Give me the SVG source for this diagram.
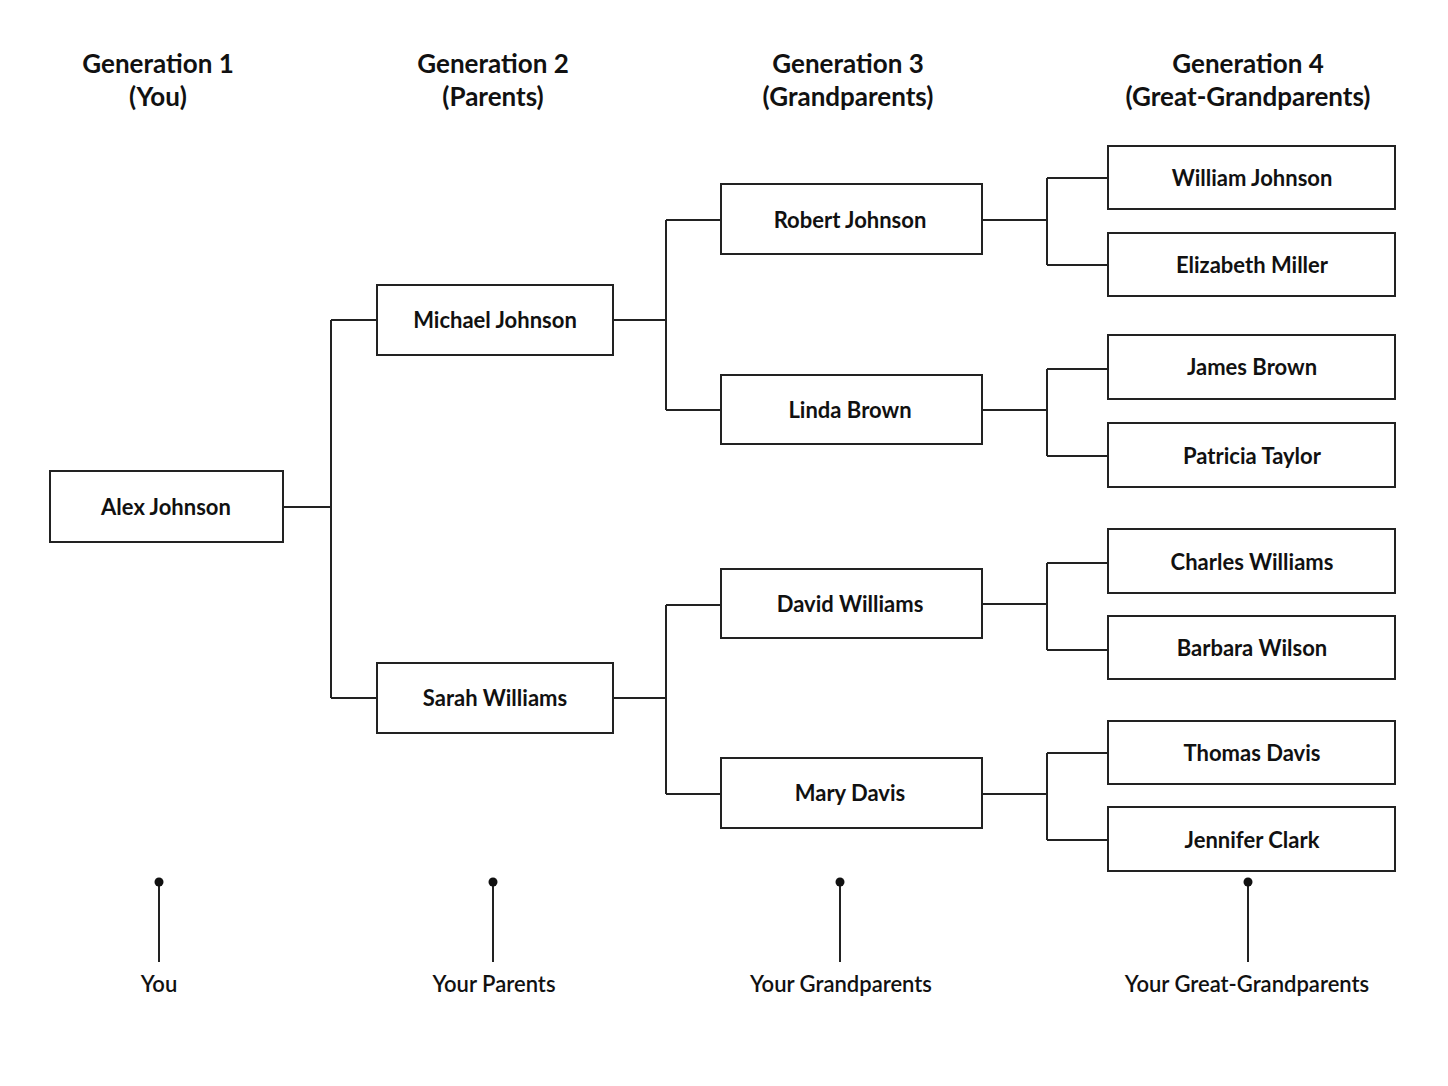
<svg xmlns="http://www.w3.org/2000/svg" width="1448" height="1086" viewBox="0 0 1448 1086">
<style>
.h{font-family:Lato,"Liberation Sans",sans-serif;font-weight:bold;font-size:26px;text-anchor:middle;fill:#111}
.t{font-family:Lato,"Liberation Sans",sans-serif;font-weight:bold;font-size:22px;text-anchor:middle;fill:#111}
.b{font-family:Lato,"Liberation Sans",sans-serif;font-weight:600;font-size:22px;text-anchor:middle;fill:#111}
rect{fill:#fff;stroke:#222;stroke-width:2}
.c{fill:none;stroke:#222;stroke-width:2}
</style>
<rect x="0" y="0" width="1448" height="1086" style="fill:#fff;stroke:none"/>
<g id="headers">
<text class="h" x="158" y="73">Generation 1</text><text class="h" x="158" y="106">(You)</text>
<text class="h" x="493" y="73">Generation 2</text><text class="h" x="493" y="106">(Parents)</text>
<text class="h" x="848" y="73">Generation 3</text><text class="h" x="848" y="106">(Grandparents)</text>
<text class="h" x="1248" y="73">Generation 4</text><text class="h" x="1248" y="106">(Great-Grandparents)</text>
</g>
<g id="connectors" class="c">
<path d="M283 507H331M331 320V698M331 320H377M331 698H377"/>
<path d="M613 320H666M666 220V410M666 220H721M666 410H721"/>
<path d="M613 698H666M666 605V794M666 605H721M666 794H721"/>
<path d="M982 220H1047M1047 178V265M1047 178H1108M1047 265H1108"/>
<path d="M982 410H1047M1047 369V456M1047 369H1108M1047 456H1108"/>
<path d="M982 604H1047M1047 563V650M1047 563H1108M1047 650H1108"/>
<path d="M982 794H1047M1047 753V840M1047 753H1108M1047 840H1108"/>
<path d="M159 882V962M493 882V962M840 882V962M1248 882V962"/>
</g>
<g id="n-alex"><rect x="50" y="471" width="233" height="71"/><text class="t" x="166" y="515">Alex Johnson</text></g>
<g id="n-michael"><rect x="377" y="285" width="236" height="70"/><text class="t" x="495" y="328">Michael Johnson</text></g>
<g id="n-sarah"><rect x="377" y="663" width="236" height="70"/><text class="t" x="495" y="706">Sarah Williams</text></g>
<g id="n-robert"><rect x="721" y="184" width="261" height="70"/><text class="t" x="850" y="228">Robert Johnson</text></g>
<g id="n-linda"><rect x="721" y="375" width="261" height="69"/><text class="t" x="850" y="418">Linda Brown</text></g>
<g id="n-david"><rect x="721" y="569" width="261" height="69"/><text class="t" x="850" y="612">David Williams</text></g>
<g id="n-mary"><rect x="721" y="758" width="261" height="70"/><text class="t" x="850" y="801">Mary Davis</text></g>
<g id="n-william"><rect x="1108" y="146" width="287" height="63"/><text class="t" x="1252" y="186">William Johnson</text></g>
<g id="n-elizabeth"><rect x="1108" y="233" width="287" height="63"/><text class="t" x="1252" y="273">Elizabeth Miller</text></g>
<g id="n-james"><rect x="1108" y="335" width="287" height="64"/><text class="t" x="1252" y="375">James Brown</text></g>
<g id="n-patricia"><rect x="1108" y="423" width="287" height="64"/><text class="t" x="1252" y="464">Patricia Taylor</text></g>
<g id="n-charles"><rect x="1108" y="529" width="287" height="64"/><text class="t" x="1252" y="570">Charles Williams</text></g>
<g id="n-barbara"><rect x="1108" y="616" width="287" height="63"/><text class="t" x="1252" y="656">Barbara Wilson</text></g>
<g id="n-thomas"><rect x="1108" y="721" width="287" height="63"/><text class="t" x="1252" y="761">Thomas Davis</text></g>
<g id="n-jennifer"><rect x="1108" y="807" width="287" height="64"/><text class="t" x="1252" y="848">Jennifer Clark</text></g>
<g id="legend">
<circle cx="159" cy="882" r="4.5" fill="#111"/><circle cx="493" cy="882" r="4.5" fill="#111"/><circle cx="840" cy="882" r="4.5" fill="#111"/><circle cx="1248" cy="882" r="4.5" fill="#111"/>
<text class="b" x="159" y="992">You</text>
<text class="b" x="494" y="992">Your Parents</text>
<text class="b" x="841" y="992">Your Grandparents</text>
<text class="b" x="1247" y="992">Your Great-Grandparents</text>
</g>
</svg>
